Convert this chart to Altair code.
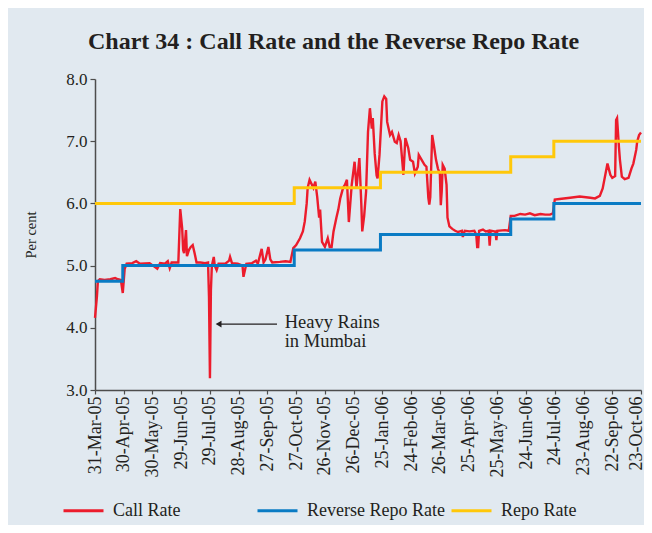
import json
import altair as alt
import pandas as pd

# ---- data ----
tick_labels = ["31-Mar-05", "30-Apr-05", "30-May-05", "29-Jun-05", "29-Jul-05",
               "28-Aug-05", "27-Sep-05", "27-Oct-05", "26-Nov-05", "26-Dec-05",
               "25-Jan-06", "24-Feb-06", "26-Mar-06", "25-Apr-06", "25-May-06",
               "24-Jun-06", "24-Jul-06", "23-Aug-06", "22-Sep-06", "23-Oct-06"]
tick_days = [30 * i for i in range(len(tick_labels))]

# day offsets from 31-Mar-05
call_days = [0, 2, 3, 5, 10, 16, 21, 24, 27, 29, 31, 33, 39, 43, 47, 57, 65, 68, 73, 76,
             78, 80, 87, 89, 91, 92, 93, 95, 96, 98, 100, 102, 104, 106, 110, 115, 118, 119,
             120, 121, 122, 124, 125, 127, 129, 136, 140, 141, 143, 149, 154, 155, 158, 164,
             168, 170, 174, 176, 178, 181, 183, 185, 193, 199, 204, 207, 210, 214, 217, 219,
             221, 222, 224, 228, 230, 232, 234, 235, 237, 240, 243, 245, 247, 249, 252, 254,
             256, 259, 261, 263, 265, 268, 271, 273, 276, 278, 279, 281, 283, 285, 287, 289,
             290, 292, 294, 295, 297, 300, 302, 304, 305, 308, 310, 313, 315, 317, 319, 322,
             324, 327, 329, 332, 334, 337, 338, 341, 344, 346, 348, 349, 350, 352, 354, 356,
             358, 360, 361, 362, 363, 365, 367, 368, 370, 373, 376, 379, 381, 383, 384, 386,
             391, 396, 398, 399, 400, 401, 405, 408, 411, 412, 413, 417, 418, 419, 420, 428,
             432, 434, 438, 444, 449, 454, 459, 465, 470, 475, 478, 480, 485, 496, 506, 517,
             522, 527, 530, 533, 535, 538, 540, 543, 544, 545, 547, 548, 550, 553, 557, 560,
             562, 565, 566, 568, 570]
call_values = [4.16, 4.5, 4.75, 4.78, 4.77, 4.78, 4.80, 4.78, 4.77, 4.56, 4.95, 5.03, 5.04,
               5.07, 5.03, 5.04, 4.95, 5.04, 5.03, 5.07, 4.96, 5.05, 5.05, 5.91, 5.6, 5.25,
               5.2, 5.57, 5.15, 5.25, 5.3, 5.33, 5.2, 5.05, 5.05, 5.04, 5.05, 4.5, 3.19, 4.6,
               5.0, 5.14, 5.0, 4.93, 5.03, 5.03, 5.08, 5.14, 5.04, 5.03, 5.0, 4.82, 5.03, 5.04,
               5.08, 5.03, 5.27, 5.05, 5.1, 5.30, 5.1, 5.05, 5.06, 5.07, 5.06, 5.28, 5.33, 5.44,
               5.55, 5.71, 6.0, 6.25, 6.38, 6.25, 6.35, 6.1, 5.77, 5.9, 5.38, 5.3, 5.44, 5.3,
               5.3, 5.55, 5.77, 5.9, 6.08, 6.25, 6.3, 6.38, 5.7, 6.3, 6.67, 6.25, 6.73, 6.0,
               5.55, 5.8, 6.19, 7.15, 7.53, 7.2, 7.37, 6.8, 6.45, 6.4, 6.78, 7.64, 7.72, 7.68,
               7.31, 7.1, 7.15, 6.99, 6.97, 7.1, 7.0, 6.46, 7.05, 6.89, 6.7, 6.67, 6.48, 6.59,
               6.78, 6.7, 6.62, 6.59, 6.09, 5.98, 6.1, 7.1, 6.91, 6.7, 6.56, 6.48, 5.97, 6.2,
               6.62, 6.56, 6.3, 5.77, 5.63, 5.59, 5.56, 5.54, 5.55, 5.56, 5.46, 5.56, 5.55,
               5.56, 5.5, 5.3, 5.3, 5.56, 5.58, 5.55, 5.56, 5.32, 5.56, 5.55, 5.55, 5.41, 5.56,
               5.57, 5.56, 5.80, 5.80, 5.83, 5.82, 5.84, 5.81, 5.83, 5.82, 5.82, 5.84, 6.06,
               6.07, 6.09, 6.11, 6.09, 6.08, 6.12, 6.24, 6.48, 6.64, 6.46, 6.41, 6.44, 7.34,
               7.37, 6.9, 6.7, 6.43, 6.39, 6.41, 6.56, 6.64, 6.86, 6.99, 7.1, 7.14]

rrr_days = [0, 29, 208, 298, 434, 479, 570]
rrr_values = [4.75, 5.0, 5.25, 5.5, 5.75, 6.0, 6.0]
repo_days = [0, 208, 298, 434, 479, 570]
repo_values = [6.0, 6.25, 6.5, 6.75, 7.0, 7.0]

series_names = ["Call Rate", "Reverse Repo Rate", "Repo Rate"]
series_colors = ["#ec1c2c", "#0a7bc4", "#ffc80a"]

note_text = ["Heavy Rains\nin Mumbai"]
note_day = [198]
note_value = [4.09]
arrow_from = [190]
arrow_to = [129]
arrow_value = [4.06]

# ---- tables ----
df_call = pd.DataFrame({"day": call_days, "value": call_values, "series": "Call Rate"})
df_policy = pd.concat([
    pd.DataFrame({"day": rrr_days, "value": rrr_values, "series": "Reverse Repo Rate"}),
    pd.DataFrame({"day": repo_days, "value": repo_values, "series": "Repo Rate"}),
])
df_note = pd.DataFrame({"day": note_day, "value": note_value, "text": note_text})
df_arrow = pd.DataFrame({"day": arrow_from, "day_end": arrow_to, "value": arrow_value})
df_head = pd.DataFrame({"day": arrow_to, "value": arrow_value})

FONT = "Liberation Serif"
label_js = json.dumps(tick_labels)
last_day = tick_days[-1]

x_enc = alt.X("day:Q", scale=alt.Scale(domain=[0, 570], nice=False, zero=False),
              axis=alt.Axis(values=tick_days, tickCount=len(tick_days) + 5,
                            labelExpr=f"{label_js}[round(datum.value/30)]",
                            labelAngle=-90, title=None, labelPadding=2, tickSize=4,
                            labelFontSize=18, labelOverlap=False, labelBound=False,
                            labelBaseline={"condition": {"test": f"datum.value >= {last_day}",
                                                         "value": "alphabetic"},
                                           "value": "middle"}))
y_enc = alt.Y("value:Q", scale=alt.Scale(domain=[3, 8], nice=False, zero=False),
              axis=alt.Axis(values=[3, 4, 5, 6, 7, 8], format=".1f", title="Per cent",
                            tickSize=5, labelPadding=3, titlePadding=27,
                            titleFontWeight="normal", titleFontSize=14.5, labelFontSize=17))
color_enc = alt.Color("series:N",
                      scale=alt.Scale(domain=series_names, range=series_colors),
                      legend=alt.Legend(title=None, orient="none", legendX=-33, legendY=410,
                                        direction="horizontal", columns=3,
                                        symbolType="stroke",
                                        symbolSize=1600, symbolStrokeWidth=3,
                                        labelFontSize=18, labelFont=FONT, labelColor="#231f20",
                                        gridAlign="all", columnPadding=0, labelOffset=8,
                                        labelLimit=300))

call = alt.Chart(df_call).mark_line(strokeWidth=2.4).encode(x=x_enc, y=y_enc, color=color_enc)
policy = alt.Chart(df_policy).mark_line(strokeWidth=3, interpolate="step-after").encode(
    x=x_enc, y=y_enc, color=color_enc)
arrow = alt.Chart(df_arrow).mark_rule(color="#231f20", strokeWidth=1.2).encode(
    x=x_enc, x2="day_end:Q", y=y_enc)
head = alt.Chart(df_head).mark_point(shape="triangle-left", filled=True, color="#231f20",
                                     size=45, opacity=1).encode(x=x_enc, y=y_enc)
note = alt.Chart(df_note).mark_text(align="left", baseline="middle", font=FONT, fontSize=18.5,
                                    lineBreak="\n", lineHeight=19, color="#231f20").encode(
    x=x_enc, y=y_enc, text="text:N")

chart = alt.layer(call, policy, arrow, head, note).properties(
    width=546, height=311,
    background="#e1e9f0",
    padding={"left": 87, "top": 71, "right": 3, "bottom": 135},
    autosize=alt.AutoSizeParams(type="none"),
    title=alt.Title("Chart 34 : Call Rate and the Reverse Repo Rate", anchor="start", dx=-7,
                    frame="group", font=FONT, fontSize=24, fontWeight="bold",
                    color="#231f20", offset=16),
).configure_view(stroke=None).configure_axis(
    labelFont=FONT, titleFont=FONT, labelColor="#231f20", titleColor="#231f20",
    domainColor="#4d4d4d", tickColor="#4d4d4d", grid=False, domainWidth=1.5, tickWidth=1.2,
)

chart.save("out.html", embed_options={"renderer": "svg", "actions": False})
